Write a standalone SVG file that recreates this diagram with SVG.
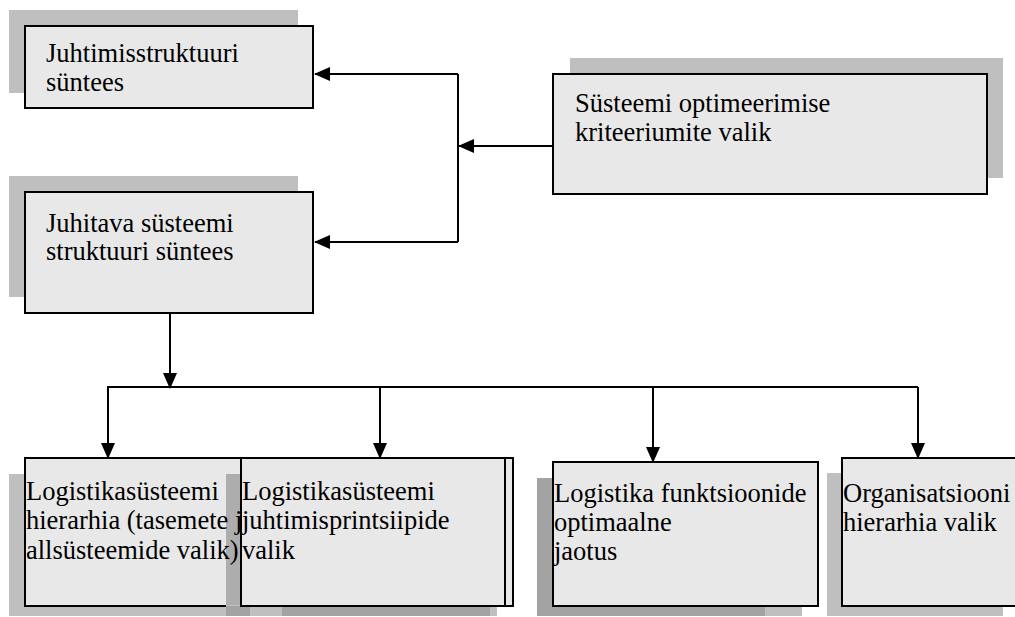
<svg xmlns="http://www.w3.org/2000/svg" width="1015" height="617" viewBox="0 0 1015 617">
  <style>
    .shadow { fill: #bfbfbf; }
    .shadow-dark { fill: #a3a3a3; }
    .box { fill: #e8e8e8; stroke: #000; stroke-width: 2; }
    .label { font-size: 26.5px; fill: #000; }
    .wire { fill: none; stroke: #000; stroke-width: 2; }
  </style>
  <defs>
    <marker id="arrow" viewBox="0 0 16 14" refX="15" refY="7" markerWidth="16" markerHeight="14" markerUnits="userSpaceOnUse" orient="auto">
      <path d="M0,0 L16,7 L0,14 Z" fill="#000"/>
    </marker>
  </defs>
  <rect width="1015" height="617" fill="#fff"/>

  <g font-family="Liberation Serif, Times New Roman, DejaVu Serif, serif">
  <!-- top row -->
  <g id="node-juhtimisstruktuur">
    <rect class="shadow" x="9" y="10" width="289" height="83"/>
    <rect class="box" x="25" y="26" width="288" height="82"/>
    <text class="label" x="46" y="62">Juhtimisstruktuuri</text>
    <text class="label" x="46" y="91">süntees</text>
  </g>

  <g id="node-juhitav-susteem">
    <rect class="shadow" x="9" y="176" width="289" height="121"/>
    <rect class="box" x="25" y="192" width="288" height="121"/>
    <text class="label" x="46" y="232">Juhitava süsteemi</text>
    <text class="label" x="46" y="260">struktuuri süntees</text>
  </g>

  <g id="node-kriteeriumid">
    <rect class="shadow" x="570" y="58" width="433" height="120"/>
    <rect class="box" x="553" y="74" width="434" height="120"/>
    <text class="label" x="575" y="112">Süsteemi optimeerimise</text>
    <text class="label" x="575" y="141">kriteeriumite valik</text>
  </g>

  <!-- bottom row: shapes -->
  <g id="node-hierarhia">
    <rect class="shadow" x="9" y="474" width="241" height="142"/>
    <rect class="box" x="25" y="458" width="217" height="148"/>
  </g>

  <g id="node-printsiibid">
    <rect class="shadow" x="226" y="474" width="271" height="142"/>
    <rect class="shadow-dark" x="226" y="606" width="24" height="10"/>
    <rect class="shadow-dark" x="282" y="606" width="208" height="10"/>
    <rect x="226" y="474" width="15" height="131" fill="#adadad"/>
    <rect class="box" x="241" y="458" width="272" height="148"/>
    <rect class="box" x="241" y="458" width="264" height="148"/>
  </g>

  <g id="node-funktsioonid">
    <rect class="shadow" x="537" y="478" width="265" height="138"/>
    <rect class="shadow-dark" x="537" y="478" width="228" height="138"/>
    <rect class="box" x="553" y="462" width="265" height="144"/>
  </g>

  <g id="node-organisatsioon">
    <rect class="shadow" x="827" y="473" width="176" height="143"/>
    <rect class="box" x="842" y="458" width="180" height="148"/>
  </g>

  <!-- bottom row: labels (overflowing text stays on top) -->
  <g id="labels-bottom">
    <text class="label" x="26" y="500">Logistikasüsteemi</text>
    <text class="label" x="26" y="529">hierarhia (tasemete j</text>
    <text class="label" x="26" y="559">allsüsteemide valik)</text>

    <text class="label" x="242" y="500">Logistikasüsteemi</text>
    <text class="label" x="242" y="529">juhtimisprintsiipide</text>
    <text class="label" x="242" y="559">valik</text>

    <text class="label" x="554" y="502">Logistika funktsioonide</text>
    <text class="label" x="554" y="531">optimaalne</text>
    <text class="label" x="554" y="560">jaotus</text>

    <text class="label" x="843" y="502">Organisatsiooni</text>
    <text class="label" x="843" y="531">hierarhia valik</text>
  </g>
  </g>

  <g id="connectors">
    <path class="wire" d="M553,146 L459,146" marker-end="url(#arrow)"/>
    <path class="wire" d="M458,74 L458,242"/>
    <path class="wire" d="M458,74 L315,74" marker-end="url(#arrow)"/>
    <path class="wire" d="M458,242 L315,242" marker-end="url(#arrow)"/>

    <path class="wire" d="M170,314 L170,388" marker-end="url(#arrow)"/>
    <path class="wire" d="M107,387 L918,387"/>
    <path class="wire" d="M108,387 L108,458" marker-end="url(#arrow)"/>
    <path class="wire" d="M380,387 L380,458" marker-end="url(#arrow)"/>
    <path class="wire" d="M653,387 L653,462" marker-end="url(#arrow)"/>
    <path class="wire" d="M918,387 L918,458" marker-end="url(#arrow)"/>
  </g>
</svg>
